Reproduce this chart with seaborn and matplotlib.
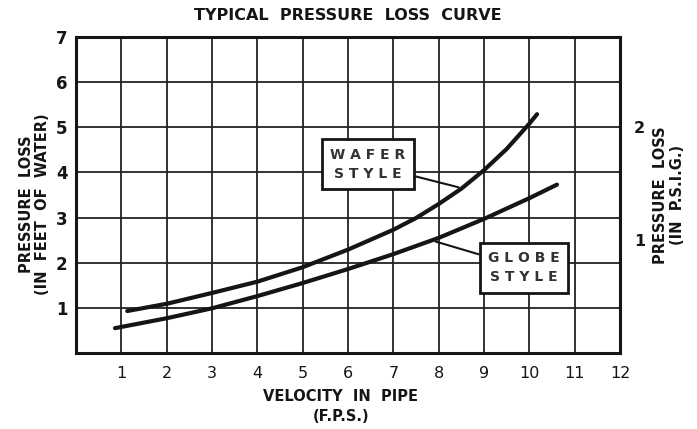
import matplotlib
matplotlib.use("Agg")
import matplotlib.pyplot as plt
import seaborn as sns
import pandas as pd

# ---- data ----
wafer_v = [1.13, 2, 3, 4, 5, 6, 7, 7.5, 8, 8.5, 9, 9.5, 10, 10.17]
wafer_loss = [0.93, 1.09, 1.33, 1.58, 1.90, 2.29, 2.73, 2.99, 3.30, 3.64, 4.05, 4.52, 5.08, 5.29]
globe_v = [0.86, 2, 3, 4, 5, 6, 7, 8, 9, 10, 10.61]
globe_loss = [0.55, 0.77, 0.99, 1.26, 1.55, 1.86, 2.19, 2.55, 2.97, 3.43, 3.73]
x_ticks = [1, 2, 3, 4, 5, 6, 7, 8, 9, 10, 11, 12]
y_ticks = [1, 2, 3, 4, 5, 6, 7]
psi_ticks = [1, 2]
ft_per_psi = 2.5

df = pd.concat([
    pd.DataFrame({"v": wafer_v, "loss": wafer_loss, "style": "WAFER"}),
    pd.DataFrame({"v": globe_v, "loss": globe_loss, "style": "GLOBE"}),
])

sns.set_style("white")
plt.rcParams["font.family"] = ["DejaVu Sans"]

INK = "#151515"
fig = plt.figure(figsize=(6.97, 4.29), dpi=100)
ax = fig.add_axes([76 / 697, 1 - 353 / 429, (620 - 76) / 697, (353 - 37) / 429])

sns.lineplot(data=df, x="v", y="loss", units="style", estimator=None,
             color=INK, linewidth=3.0, ax=ax, legend=False, sort=False)
for ln in ax.get_lines():
    ln.set_solid_joinstyle("round")
    ln.set_solid_capstyle("round")

ax.set_xlim(0, 12)
ax.set_ylim(0, 7)
ax.set_xticks(x_ticks)
ax.set_yticks(y_ticks)
ax.set_xticklabels([str(t) for t in x_ticks], fontsize=11.5, color=INK)
ax.set_yticklabels([str(t) for t in y_ticks], fontsize=12, fontweight="bold", color=INK)
ax.tick_params(axis="both", length=0)
ax.tick_params(axis="x", pad=9)
ax.tick_params(axis="y", pad=6)
ax.grid(True, color="#222222", linewidth=1.3)
ax.set_axisbelow(True)
for s in ax.spines.values():
    s.set_visible(True)
    s.set_color(INK)
    s.set_linewidth(2.2)

ax.set_xlabel("VELOCITY  IN  PIPE\n(F.P.S.)", fontsize=10.5, fontweight="bold",
              linespacing=1.4, color=INK)
ax.xaxis.set_label_coords(0.487, -0.115, transform=ax.transAxes)
ax.xaxis.label.set_va("top")
ax.set_ylabel("PRESSURE  LOSS\n(IN  FEET  OF  WATER)", fontsize=10.5, fontweight="bold",
              linespacing=1.15, color=INK)
ax.yaxis.set_label_coords(-0.047, 0.47, transform=ax.transAxes)

sec = ax.secondary_yaxis("right", functions=(lambda f: f / ft_per_psi,
                                             lambda p: p * ft_per_psi))
sec.set_yticks(psi_ticks)
sec.set_yticklabels([str(t) for t in psi_ticks], fontsize=11.5, fontweight="bold", color=INK)
sec.tick_params(length=0, pad=10)
sec.spines["right"].set_visible(False)
sec.set_ylabel("PRESSURE  LOSS\n(IN  P.S.I.G.)", fontsize=10.5, fontweight="bold",
               linespacing=1.15, color=INK)
sec.yaxis.set_label_coords(1.061, 0.50, transform=ax.transAxes)

fig.text(0.499, 1 - 16 / 429, "TYPICAL  PRESSURE  LOSS  CURVE", ha="center",
         va="center", fontsize=11.5, fontweight="bold", color=INK)

# annotations
box = dict(boxstyle="square,pad=0.6", fc="white", ec=INK, lw=2)
arrow = dict(arrowstyle="-", color=INK, lw=1.5, shrinkA=0, shrinkB=0)
ax.annotate("W A F E R\nS T Y L E", xy=(8.44, 3.67), xytext=(6.44, 4.18),
            ha="center", va="center", fontsize=10, linespacing=1.5, color="#333333",
            fontweight="bold", bbox=box, arrowprops=arrow)
ax.annotate("G L O B E\nS T Y L E", xy=(7.93, 2.47), xytext=(9.88, 1.89),
            ha="center", va="center", fontsize=10, linespacing=1.5, color="#333333",
            fontweight="bold", bbox=box, arrowprops=arrow)

fig.savefig("out.png", dpi=100)
